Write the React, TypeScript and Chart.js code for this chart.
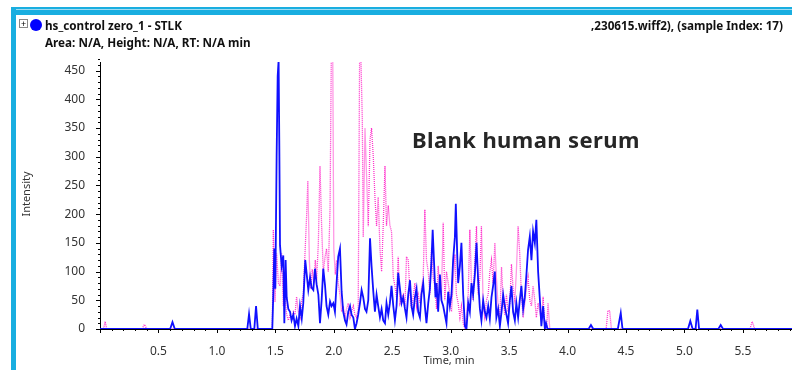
import React, { useEffect, useRef } from "react";
import { Chart, registerables } from "chart.js";

Chart.register(...registerables);

const FONT = '"Noto Sans", "Open Sans", sans-serif';

// [time (min), intensity]
const blueTrace: number[][] = [
  [0, 0], [0.6, 0], [0.62, 12], [0.64, 0], [1.26, 0], [1.275, 26], [1.29, 0], [1.32, 0], [1.335, 40], [1.35, 0], [1.474, 0],
  [1.483, 63], [1.491, 140], [1.5, 70], [1.511, 300], [1.52, 440], [1.528, 468], [1.534, 320], [1.54, 146], [1.554, 110], [1.568, 128], [1.577, 10], [1.588, 120], [1.597, 55],
  [1.611, 35], [1.626, 30], [1.639, 15], [1.654, 25], [1.668, 5], [1.682, 18], [1.697, 5], [1.711, 40], [1.726, 18], [1.739, 45], [1.756, 120], [1.782, 68], [1.797, 90],
  [1.81, 72], [1.825, 68], [1.839, 105], [1.853, 78], [1.868, 60], [1.882, 10], [1.896, 50], [1.91, 105], [1.925, 76], [1.938, 40], [1.953, 25], [1.968, 48], [1.981, 40], [1.996, 45],
  [2.01, 30], [2.024, 80], [2.038, 126], [2.053, 140], [2.067, 65], [2.081, 30], [2.096, 15], [2.109, 8], [2.124, 30], [2.139, 40], [2.152, 25], [2.167, 20], [2.181, 0], [2.195, 10],
  [2.209, 25], [2.224, 45], [2.238, 68], [2.252, 55], [2.267, 35], [2.28, 30], [2.295, 50], [2.31, 158], [2.323, 110], [2.338, 65], [2.352, 30], [2.366, 60], [2.38, 40], [2.395, 20],
  [2.409, 35], [2.423, 15], [2.438, 10], [2.451, 45], [2.466, 25], [2.48, 45], [2.494, 75], [2.509, 40], [2.523, 15], [2.537, 40], [2.551, 98], [2.566, 70], [2.58, 45], [2.594, 55],
  [2.609, 35], [2.622, 20], [2.637, 60], [2.652, 85], [2.665, 40], [2.679, 25], [2.694, 55], [2.708, 70], [2.722, 30], [2.737, 20], [2.75, 60], [2.765, 80], [2.779, 40], [2.793, 10],
  [2.808, 45], [2.822, 70], [2.836, 120], [2.846, 173], [2.859, 110], [2.87, 55], [2.879, 80], [2.893, 30], [2.908, 95], [2.921, 50], [2.936, 40], [2.95, 25], [2.964, 10], [2.979, 65],
  [2.993, 40], [3.007, 60], [3.021, 120], [3.036, 160], [3.044, 218], [3.056, 130], [3.064, 80], [3.079, 110], [3.092, 150], [3.107, 60], [3.122, 5], [3.135, 0], [3.15, 45],
  [3.164, 30], [3.178, 80], [3.192, 60], [3.207, 95], [3.221, 150], [3.235, 85], [3.25, 35], [3.263, 15], [3.278, 50], [3.292, 30], [3.306, 20], [3.321, 40], [3.335, 18],
  [3.349, 55], [3.363, 75], [3.378, 100], [3.391, 20], [3.406, 35], [3.421, 5], [3.435, 30], [3.449, 60], [3.463, 40], [3.477, 25], [3.491, 10], [3.506, 50], [3.52, 75],
  [3.534, 30], [3.549, 15], [3.562, 45], [3.577, 20], [3.591, 50], [3.605, 75], [3.62, 35], [3.634, 55], [3.648, 95], [3.662, 138], [3.677, 161], [3.691, 120], [3.705, 170],
  [3.72, 150], [3.733, 190], [3.748, 100], [3.762, 55], [3.776, 5], [3.791, 40], [3.806, 0], [3.816, 10], [3.829, 0],
  [4.18, 0], [4.2, 7], [4.22, 0], [4.43, 0], [4.455, 28], [4.47, 0], [5.03, 0], [5.05, 14], [5.07, 0], [5.095, 0], [5.11, 34], [5.125, 0], [5.29, 0], [5.31, 7], [5.33, 0], [5.92, 0],
];

const pinkTrace: number[][] = [
  [0, 0], [0.03, 0], [0.044, 13], [0.058, 0], [0.36, 0], [0.38, 8], [0.4, 0], [1.474, 0],
  [1.483, 173], [1.497, 47], [1.511, 132], [1.526, 80], [1.54, 75], [1.554, 132], [1.568, 40], [1.583, 55], [1.597, 25], [1.611, 15], [1.626, 25], [1.639, 15], [1.654, 30], [1.668, 25],
  [1.682, 56], [1.697, 30], [1.711, 20], [1.726, 50], [1.739, 60], [1.754, 132], [1.768, 200], [1.778, 258], [1.791, 120], [1.803, 70], [1.816, 104], [1.829, 80], [1.842, 120],
  [1.853, 85], [1.868, 150], [1.882, 284], [1.896, 180], [1.91, 100], [1.925, 125], [1.938, 140], [1.953, 100], [1.968, 210], [1.979, 480], [1.991, 480], [2.0, 140], [2.013, 95],
  [2.024, 120], [2.038, 80], [2.053, 60], [2.067, 30], [2.081, 40], [2.096, 20], [2.109, 35], [2.124, 45], [2.139, 20], [2.152, 30], [2.167, 40], [2.181, 25], [2.195, 20], [2.209, 35],
  [2.221, 480], [2.231, 480], [2.244, 365], [2.252, 160], [2.267, 350], [2.28, 270], [2.295, 179], [2.31, 330], [2.323, 350], [2.338, 300], [2.352, 230], [2.366, 179], [2.38, 230],
  [2.395, 140], [2.409, 100], [2.423, 180], [2.438, 284], [2.451, 180], [2.466, 215], [2.48, 180], [2.494, 170], [2.509, 90], [2.523, 75], [2.537, 55], [2.551, 126], [2.566, 45],
  [2.58, 55], [2.594, 60], [2.609, 40], [2.622, 126], [2.637, 120], [2.652, 60], [2.665, 35], [2.679, 55], [2.694, 80], [2.708, 40], [2.722, 60], [2.737, 45], [2.75, 70], [2.765, 90],
  [2.779, 208], [2.793, 120], [2.808, 100], [2.822, 60], [2.836, 140], [2.85, 90], [2.865, 75], [2.879, 35], [2.893, 110], [2.908, 70], [2.921, 60], [2.936, 185], [2.95, 50],
  [2.964, 100], [2.979, 80], [2.993, 60], [3.007, 30], [3.021, 80], [3.036, 130], [3.049, 60], [3.064, 45], [3.079, 20], [3.092, 40], [3.107, 10], [3.122, 0], [3.135, 20], [3.15, 60],
  [3.164, 173], [3.178, 80], [3.192, 50], [3.207, 120], [3.221, 179], [3.235, 60], [3.25, 90], [3.263, 179], [3.278, 40], [3.292, 20], [3.306, 50], [3.321, 60], [3.335, 100],
  [3.349, 120], [3.363, 80], [3.378, 150], [3.391, 90], [3.406, 40], [3.421, 20], [3.435, 108], [3.449, 50], [3.463, 25], [3.477, 60], [3.491, 30], [3.506, 45], [3.52, 113],
  [3.534, 70], [3.549, 50], [3.562, 100], [3.577, 179], [3.591, 130], [3.605, 60], [3.62, 20], [3.634, 45], [3.648, 70], [3.662, 90], [3.677, 50], [3.691, 40], [3.705, 75],
  [3.72, 50], [3.733, 20], [3.748, 45], [3.762, 30], [3.776, 15], [3.791, 56], [3.806, 0], [3.82, 0], [3.833, 45], [3.848, 0],
  [4.33, 0], [4.345, 32], [4.36, 32], [4.375, 0], [5.56, 0], [5.58, 13], [5.6, 0], [5.92, 0],
];

const X_MIN = 0;
const X_MAX = 5.92;
const Y_MIN = 0;
const Y_MAX = 465;
const X_MAJOR = 0.5;
const X_MINOR = 0.1;
const Y_MAJOR = 50;
const Y_MINOR = 10;

const TITLE = "hs_control zero_1  - STLK";
const SUBTITLE = "Area: N/A, Height: N/A, RT: N/A min";
const RIGHT_TITLE = "\u201a230615.wiff2), (sample Index: 17)";
const ANNOTATION = "Blank human serum";
const X_TITLE = "Time, min";
const Y_TITLE = "Intensity";

const CYAN = "#19aee0";

export default function App() {
  const ref = useRef<HTMLCanvasElement>(null);

  useEffect(() => {
    const canvas = ref.current;
    if (!canvas) return;

    const decor = {
      id: "decor",
      beforeDraw(chart: any) {
        const ctx = chart.ctx;
        ctx.save();
        ctx.fillStyle = "#ffffff";
        ctx.fillRect(0, 0, chart.width, chart.height);
        ctx.fillStyle = CYAN;
        ctx.fillRect(11, 7, chart.width - 11, 2);
        ctx.fillStyle = "#9edbf2";
        ctx.fillRect(11, 9, chart.width - 11, 1);
        ctx.fillStyle = CYAN;
        ctx.fillRect(11, 10, chart.width - 11, 5);
        ctx.fillRect(11, 7, 5, chart.height - 7);
        ctx.restore();
      },
      afterDraw(chart: any) {
        const ctx = chart.ctx;
        const xs = chart.scales.x;
        const ys = chart.scales.y;
        const area = chart.chartArea;
        ctx.save();
        ctx.strokeStyle = "#000";
        ctx.lineWidth = 1;
        ctx.beginPath();
        const nx = Math.round((X_MAX - X_MIN) / X_MINOR);
        for (let i = 0; i <= nx; i++) {
          const v = X_MIN + i * X_MINOR;
          if (v > X_MAX) break;
          const px = Math.round(xs.getPixelForValue(v)) + 0.5;
          const major = i % Math.round(X_MAJOR / X_MINOR) === 0;
          ctx.moveTo(px, area.bottom);
          ctx.lineTo(px, area.bottom + (major ? 4 : 2));
        }
        const ny = Math.round((Y_MAX - Y_MIN) / Y_MINOR);
        for (let i = 0; i <= ny; i++) {
          const v = Y_MIN + i * Y_MINOR;
          const py = Math.round(ys.getPixelForValue(v)) + 0.5;
          const major = i % Math.round(Y_MAJOR / Y_MINOR) === 0;
          ctx.moveTo(area.left - (major ? 4 : 2), py);
          ctx.lineTo(area.left, py);
        }
        ctx.stroke();

        ctx.fillStyle = "#333";
        ctx.font = `11px ${FONT}`;
        ctx.textAlign = "center";
        ctx.textBaseline = "middle";
        ctx.fillText(X_TITLE, 449, 361);
        ctx.translate(27, 194);
        ctx.rotate(-Math.PI / 2);
        ctx.fillText(Y_TITLE, 0, 0);
        ctx.restore();
      },
    };

    const chart = new Chart(canvas, {
      type: "line",
      data: {
        datasets: [
          {
            label: "blue",
            data: blueTrace.map(([x, y]) => ({ x, y })),
            borderColor: "#1010ff",
            borderWidth: 1.8,
            pointRadius: 0,
            tension: 0,
            fill: false,
          },
          {
            label: "pink",
            data: pinkTrace.map(([x, y]) => ({ x, y })),
            borderColor: "#ff33cc",
            borderWidth: 1.3,
            borderDash: [1, 1],
            pointRadius: 0,
            tension: 0,
            fill: false,
          },
        ],
      },
      options: {
        responsive: false,
        devicePixelRatio: 1,
        animation: false,
        events: [],
        layout: { padding: { left: 0, top: 62, right: 0, bottom: 0 } },
        plugins: { legend: { display: false }, tooltip: { enabled: false } },
        scales: {
          x: {
            type: "linear",
            min: X_MIN,
            max: X_MAX,
            grid: { display: false },
            border: { display: true, color: "#000", width: 1 },
            ticks: {
              stepSize: X_MAJOR,
              includeBounds: false,
              maxRotation: 0,
              autoSkip: false,
              padding: 7,
              color: "#333",
              font: { family: FONT, size: 12 },
              callback: (v: any) => (Number(v) === 0 ? "" : Number(v).toFixed(1)),
            },
            afterFit: (s: any) => {
              s.height = 41;
            },
          },
          y: {
            type: "linear",
            min: Y_MIN,
            max: Y_MAX,
            grid: { display: false },
            border: { display: true, color: "#000", width: 1 },
            ticks: {
              stepSize: Y_MAJOR,
              includeBounds: false,
              autoSkip: false,
              padding: 7,
              color: "#333",
              font: { family: FONT, size: 12 },
            },
            afterFit: (s: any) => {
              s.width = 100;
            },
          },
        },
      },
      plugins: [decor],
    } as any);

    return () => chart.destroy();
  }, []);

  const bold = { fontFamily: FONT, fontWeight: 700, fontSize: 11.7, color: "#111", whiteSpace: "nowrap" as const, position: "absolute" as const, lineHeight: "16px" };

  return (
    <div style={{ position: "absolute", left: 0, top: 0, width: 792, height: 370, overflow: "hidden", background: "#fff" }}>
      <canvas ref={ref} width={792} height={370} style={{ position: "absolute", left: 0, top: 0, display: "block" }} />
      <div style={{ position: "absolute", left: 19, top: 19, width: 7, height: 7, border: "1px solid #888", background: "#fff", fontFamily: FONT, fontSize: 9, lineHeight: "7px", textAlign: "center", color: "#000" }}>+</div>
      <div style={{ position: "absolute", left: 30, top: 19, width: 12, height: 12, borderRadius: "50%", background: "#0000ff" }} />
      <div style={{ ...bold, left: 45, top: 17 }}>{TITLE}</div>
      <div style={{ ...bold, left: 45, top: 34 }}>{SUBTITLE}</div>
      <div style={{ ...bold, right: 9, top: 17 }}>{RIGHT_TITLE}</div>
      <div style={{ position: "absolute", left: 412, top: 124, fontFamily: FONT, fontWeight: 700, fontSize: 22, letterSpacing: 0.4, color: "#262626", whiteSpace: "nowrap" }}>{ANNOTATION}</div>
    </div>
  );
}
